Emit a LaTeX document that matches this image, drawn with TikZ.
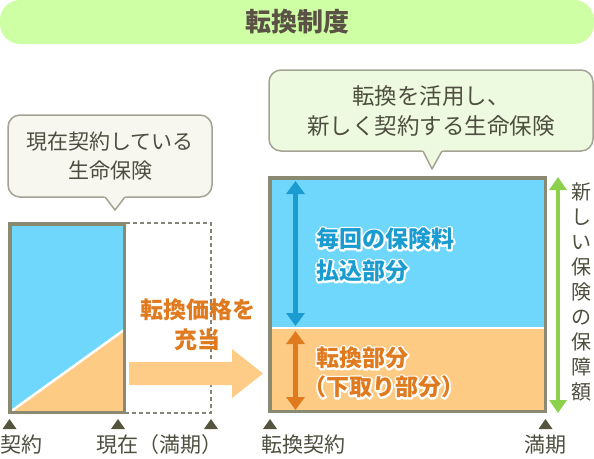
\documentclass[tikz,border=0pt]{standalone}
\usepackage{fontspec}
\usetikzlibrary{arrows.meta}
\newfontfamily\jp{Noto Sans CJK JP}
\newcommand{\halotext}[1]{\rlap{\special{pdf:code 1 Tr 1 1 1 RG 3.6 w 1 j}#1\special{pdf:code 0 Tr}}#1}
\definecolor{titlebg}{HTML}{CFFFA5}
\definecolor{titletx}{HTML}{5A5245}
\definecolor{calloutL}{HTML}{F7F6EF}
\definecolor{calloutR}{HTML}{EEFADF}
\definecolor{callbd}{HTML}{A3A394}
\definecolor{txt}{HTML}{4E4E40}
\definecolor{boxbd}{HTML}{8A8A72}
\definecolor{dashbd}{HTML}{85857A}
\definecolor{bluefill}{HTML}{6FD7FB}
\definecolor{orfill}{HTML}{FDCB84}
\definecolor{arrowfill}{HTML}{FECC86}
\definecolor{ortext}{HTML}{E07A1E}
\definecolor{bluetext}{HTML}{1A9CD0}
\definecolor{greenar}{HTML}{8BD14B}
\definecolor{tri}{HTML}{55553F}
\begin{document}
\begin{tikzpicture}[x=1pt,y=-1pt,
  lbl/.style={font=\jp\fontsize{21pt}{25pt}\selectfont, text=txt, inner sep=0pt},
  callbox/.style={draw=callbd, line width=1.5pt, rounded corners=12pt, align=center, text=txt, inner sep=0pt},
  bigtext/.style={font=\jp\bfseries\fontsize{23pt}{28pt}\selectfont, inner sep=0pt, anchor=west},
  boxborder/.style={draw=boxbd, line width=3.5pt},
  dimarrow/.style={line width=4.5pt, {Triangle[width=18pt,length=13pt]}-{Triangle[width=18pt,length=13pt]}},
]
\useasboundingbox (0,0) rectangle (594,458);

% title bar
\fill[titlebg, rounded corners=20pt] (0,0) rectangle (594,44);
\node[font=\jp\bfseries\fontsize{26pt}{30pt}\selectfont, text=titletx, inner sep=0pt] (title) at (297,22) {転換制度};

% left callout
\node[callbox, fill=calloutL, minimum width=204pt, minimum height=82pt,
      font=\jp\fontsize{21pt}{29pt}\selectfont] (cl) at (110,156) {現在契約している\\生命保険};
\fill[calloutL] (104,195.8) -- (115,210) -- (126,195.8) -- cycle;
\draw[callbd, line width=1.5pt, line join=round] (105,197) -- (115,210) -- (125,197);

% right callout
\node[callbox, fill=calloutR, minimum width=324pt, minimum height=81pt,
      font=\jp\fontsize{22.5pt}{30pt}\selectfont] (cr) at (431,110.5) {転換を活用し、\\新しく契約する生命保険};
\fill[calloutR] (422,149.8) -- (432,169) -- (443,149.8) -- cycle;
\draw[callbd, line width=1.5pt, line join=round] (423,151) -- (432,169) -- (442,151);

% left box (current policy)
\fill[bluefill] (8,222) rectangle (126,414);
\fill[orfill] (10,412) -- (124,412) -- (124,330) -- cycle;
\draw[white, line width=2.5pt] (10,412) -- (124,330);
\draw[boxborder] (9.75,223.75) rectangle (124.25,412.25);
\draw[dashbd, line width=1.2pt, dash pattern=on 4pt off 3pt] (126,223) -- (211,223) -- (211,413) -- (126,413);

% transfer arrow
\fill[arrowfill] (129,362) -- (232,362) -- (232,349) -- (263,373.5) -- (232,398) -- (232,385) -- (129,385) -- cycle;
\node[font=\jp\bfseries\fontsize{23pt}{28pt}\selectfont, text=ortext, inner sep=0pt] (kakaku) at (197.5,310) {転換価格を};
\node[font=\jp\bfseries\fontsize{23pt}{28pt}\selectfont, text=ortext, inner sep=0pt] (juto) at (197.5,340) {充当};

% right box (new policy)
\fill[bluefill] (268,176) rectangle (547,328);
\fill[orfill] (268,328) rectangle (547,413);
\draw[white, line width=2.5pt] (268,328) -- (547,328);
\draw[boxborder] (269.75,177.75) rectangle (545.25,411.25);

\coordinate (bt) at (295.5,181);
\coordinate (bb) at (295.5,326);
\coordinate (ot) at (295.5,331);
\coordinate (ob) at (295.5,410);
\draw[dimarrow, bluetext] (bt) -- (bb);
\draw[dimarrow, ortext] (ot) -- (ob);

\node[bigtext, text=bluetext] (p1) at (316,239) {\halotext{毎回の保険料}};
\node[bigtext, text=bluetext] (p2) at (316,271) {\halotext{払込部分}};
\node[bigtext, text=ortext] (t1) at (316,358) {\halotext{転換部分}};
\node[bigtext, text=ortext] (t2) at (303,387) {\halotext{（下取り部分）}};

% green arrow and vertical text
\coordinate (gt) at (558,177);
\coordinate (gb) at (558,413);
\draw[greenar, line width=4.5pt, {Triangle[width=17pt,length=13pt]}-{Triangle[width=17pt,length=13pt]}] (gt) -- (gb);
\node[font=\jp\fontsize{20pt}{25pt}\selectfont, text=txt, align=center, inner sep=0pt] (vt) at (581,291.5)
  {新\\し\\い\\保\\険\\の\\保\\障\\額};

% timeline markers
\foreach \x/\n in {9.5/a,118/b,211/c,270/d,545.5/e} {
  \coordinate (m\n) at (\x,429);
  \fill[tri] (m\n) ++(-7,0) -- ++(14,0) -- ++(-7,-10) -- cycle;
}
\node[lbl, anchor=west] (l1) at (0,445) {契約};
\node[lbl, anchor=west] (l2) at (96,445) {現在（満期）};
\node[lbl, anchor=west] (l3) at (261,445) {転換契約};
\node[lbl] (l4) at (545,445) {満期};
\end{tikzpicture}
\end{document}
